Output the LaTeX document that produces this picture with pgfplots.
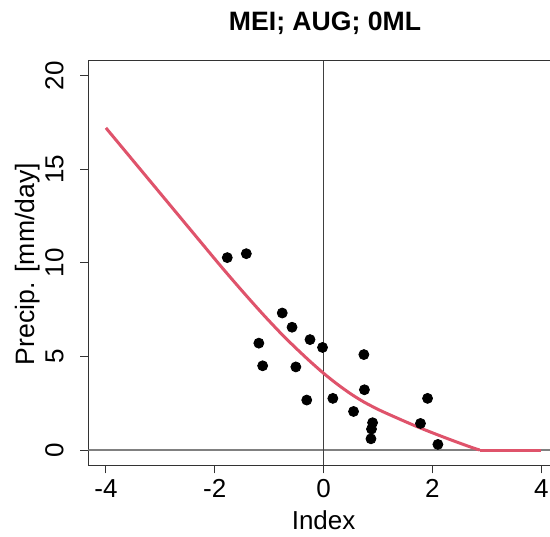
\documentclass[border=0pt]{standalone}
\usepackage{pgfplots}
\pgfplotsset{compat=1.18}
\usepackage{fontspec}
\setmainfont{Liberation Sans}
\definecolor{rred}{HTML}{DF536B}
\begin{document}
\begin{tikzpicture}
\begin{axis}[name=ax, scale only axis, width=235.1pt, height=202.15pt,
 xmin=-4.32, xmax=4.32, ymin=-0.8, ymax=20.8,
 axis line style={black!80, line width=0.5pt},
 tick pos=left, tick align=outside, major tick length=4.2pt,
 tick style={black!80, line width=0.5pt},
 xtick={-4,-2,0,2,4}, xticklabels={-4,-2,0,2,4},
 ytick={0,5,10,15,20}, yticklabels={0,5,10,15,20},
 tick label style={font=\fontsize{13}{15}\selectfont},
 xticklabel style={anchor=base}, xticklabel shift=12pt,
 yticklabel style={rotate=90, anchor=base}, yticklabel shift=8.4pt,
 every axis x label/.style={at={(axis description cs:0.5,-0.159)}, anchor=base, font=\fontsize{13}{15}\selectfont},
 every axis y label/.style={at={(axis description cs:-0.1138,0.497)}, rotate=90, anchor=base, font=\fontsize{13.3}{15}\selectfont},
 every axis title/.style={at={(axis description cs:0.503,1.0735)}, anchor=base, font=\fontsize{13.3}{15}\selectfont\bfseries},
 title={MEI; AUG; 0ML},
 xlabel={Index}, ylabel={Precip. [mm/day]},
]
\draw[black!50, line width=0.6pt] (axis cs:-4.32,0) -- (axis cs:4.32,0);
\draw[black!75, line width=0.5pt] (axis cs:0,-0.8) -- (axis cs:0,20.8);
\addplot[only marks, mark=*, mark size=2.5pt, black] coordinates {
(-1.77,10.28) (-1.42,10.49) (-0.76,7.32) (-0.58,6.56) (-1.19,5.71)
(-0.25,5.90) (-0.02,5.48) (-1.12,4.50) (-0.51,4.44) (0.74,5.10)
(-0.31,2.67) (0.17,2.76) (0.75,3.22) (0.55,2.06) (0.90,1.46)
(0.88,1.12) (0.87,0.60) (1.91,2.76) (1.78,1.42) (2.10,0.30)
};
\addplot[rred, line width=1.5pt, smooth] coordinates {
(-4,17.21) (-3,13.71) (-2,10.21) (-1.75,9.35) (-1.5,8.51) (-1.25,7.69)
(-1.05,7.05) (-0.75,6.13) (-0.5,5.42) (-0.25,4.74) (0,4.10) (0.25,3.52)
(0.5,3.00) (0.75,2.55) (1.03,2.13) (1.25,1.84) (1.5,1.52) (1.75,1.21)
(2,0.92) (2.25,0.64) (2.5,0.37) (2.75,0.11) (2.87,0)
};
\addplot[rred, line width=1.5pt] coordinates {(2.87,0) (4,0)};
\end{axis}
\pgfresetboundingbox
\path (ax.south west) ++(-44.25pt,-35.5pt) rectangle ++(275pt,268pt);
\end{tikzpicture}
\end{document}
